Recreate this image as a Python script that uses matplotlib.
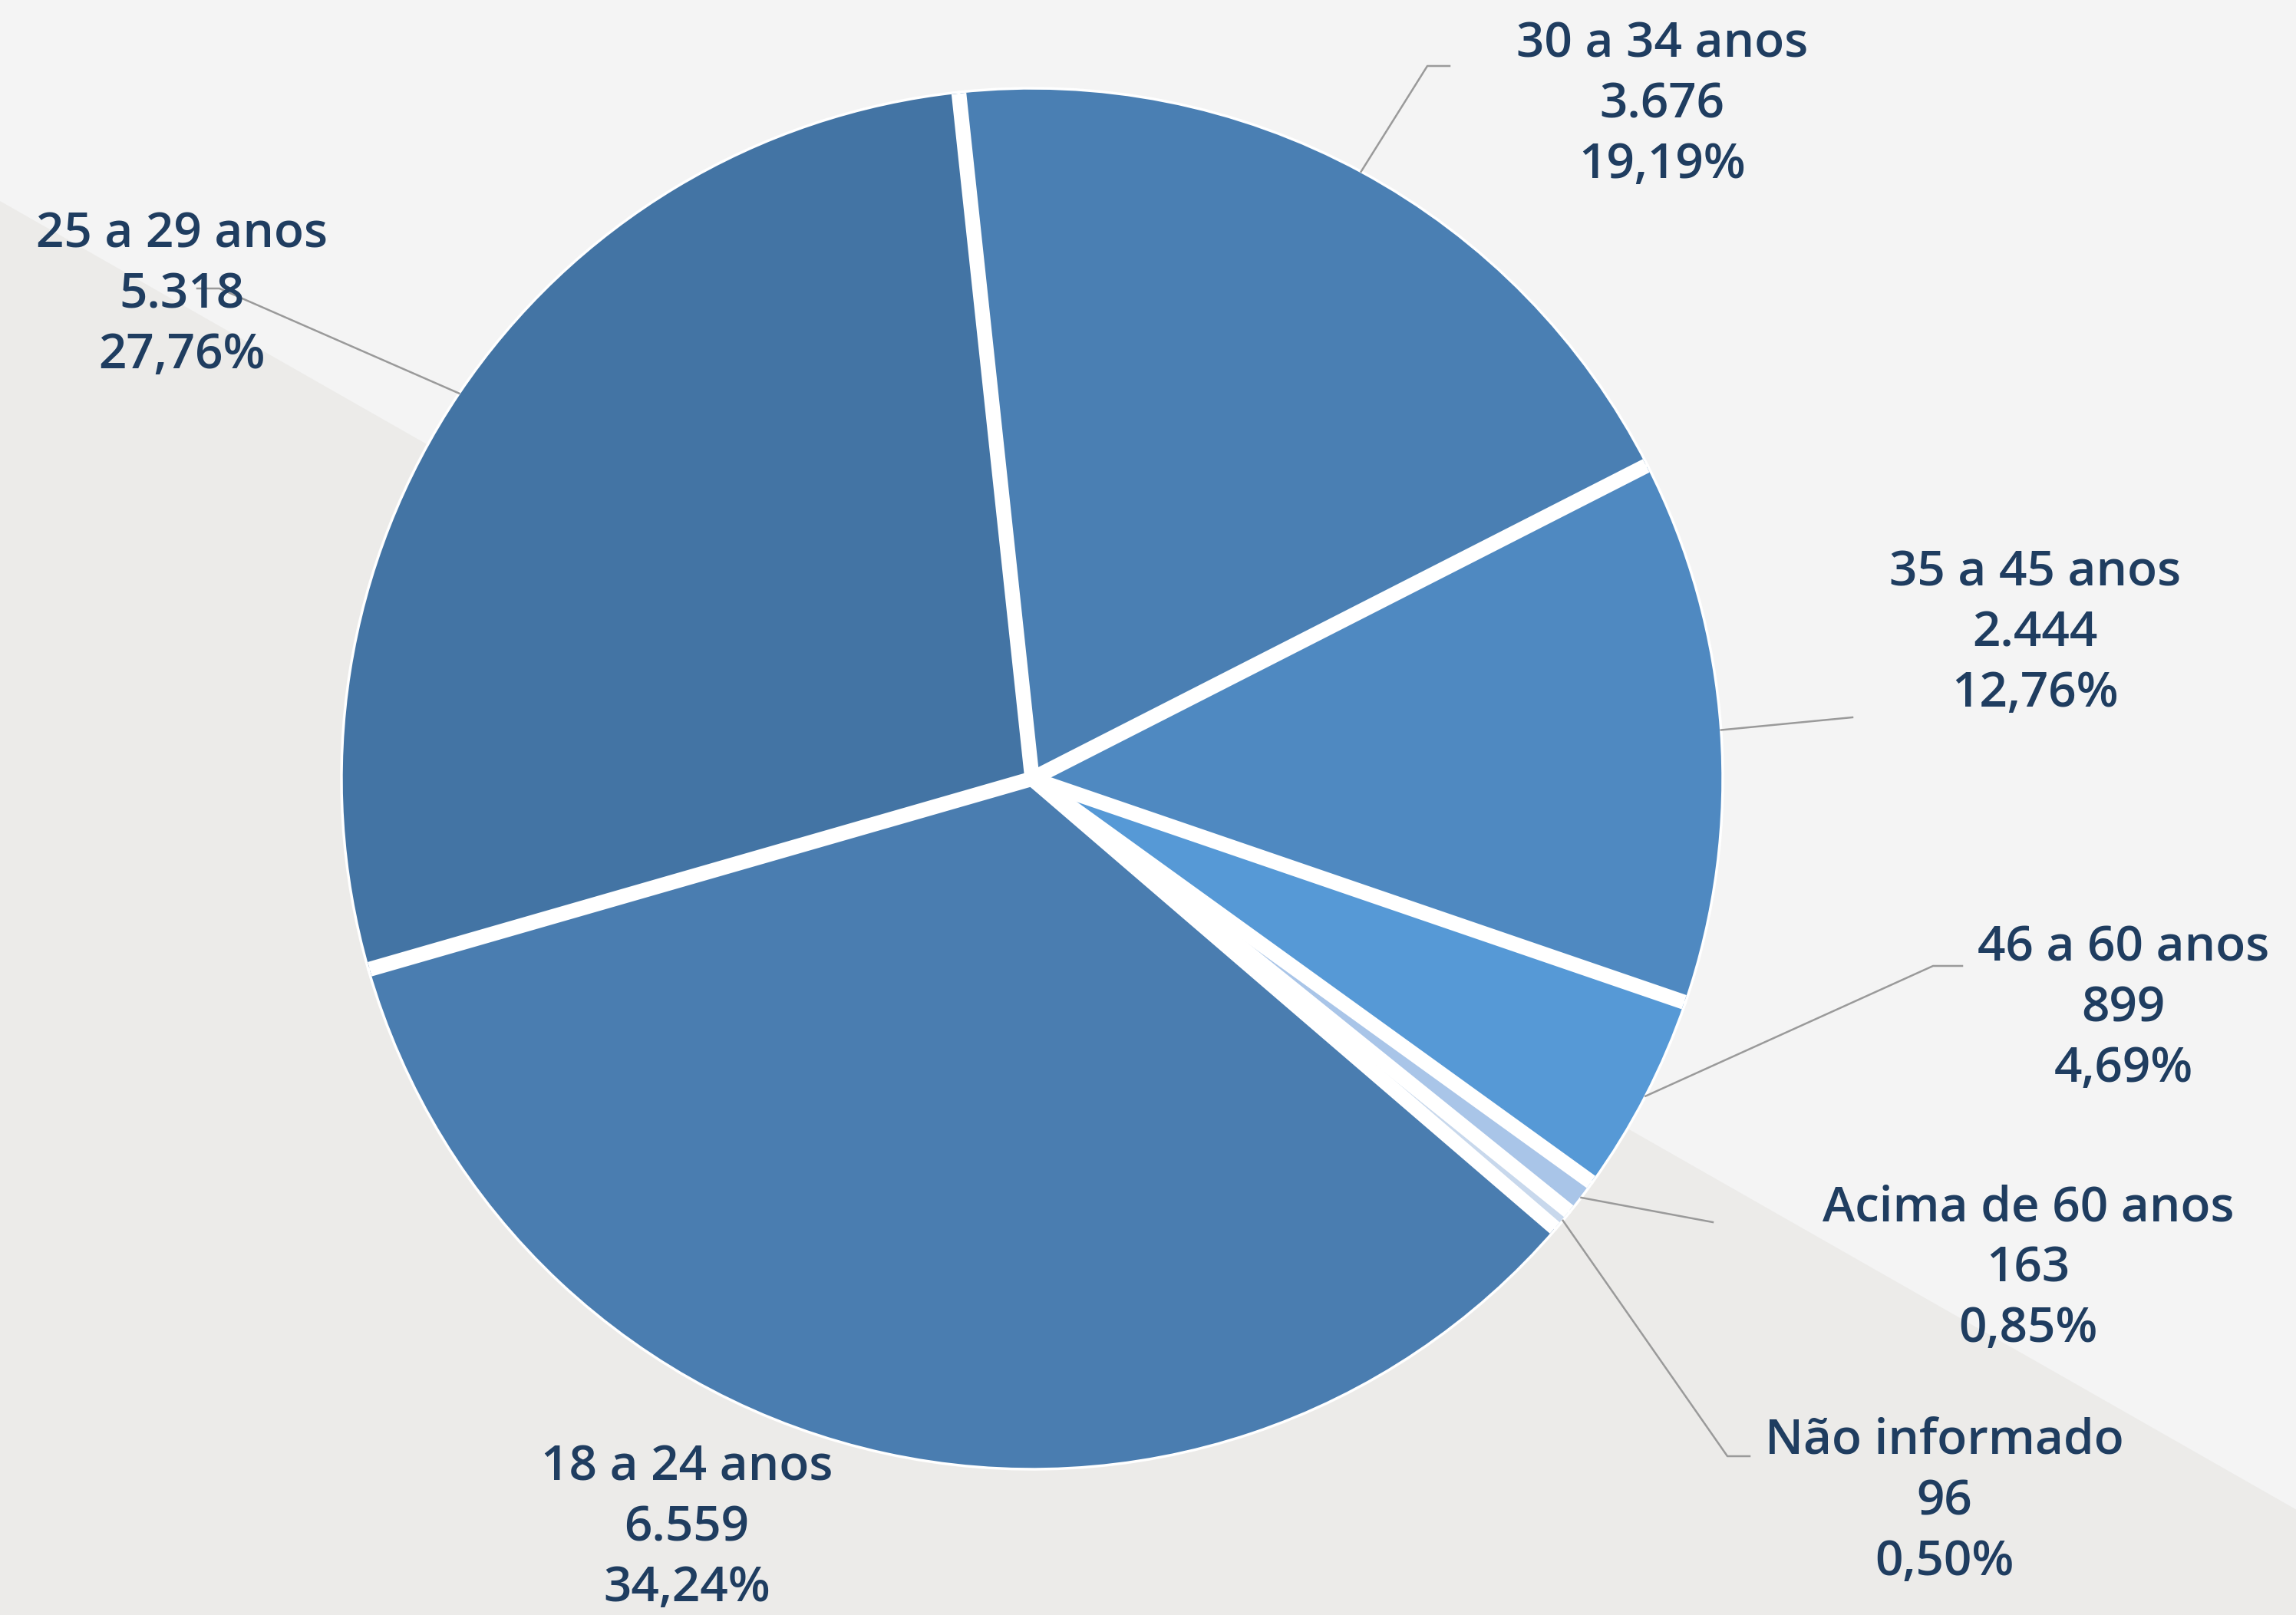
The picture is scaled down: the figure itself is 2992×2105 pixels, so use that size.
import numpy as np
import matplotlib.pyplot as plt
from matplotlib.patches import Polygon

# dados da distribuição por faixa etária
faixas = ['30 a 34 anos', '35 a 45 anos', '46 a 60 anos', 'Acima de 60 anos',
          'Não informado', '18 a 24 anos', '25 a 29 anos']
totais = [3676, 2444, 899, 163, 96, 6559, 5318]
percentuais = ['19,19%', '12,76%', '4,69%', '0,85%', '0,50%', '34,24%', '27,76%']
cores = ['#4a7fb3', '#4f89c1', '#5699d6', '#a9c5e8', '#c8d8ec', '#4a7db0', '#4374a4']

W, H = 2992, 2105
cx, cy, raio = 1345, 1015, 900  # em pixels da imagem (y para baixo)

# posição dos rótulos (centro do bloco) e pontos da linha guia
pos_rotulos = [(2166, 137), (2652, 826), (2767, 1315), (2643, 1654),
               (2534, 1958), (895, 1992), (237, 385)]
guias = [[(1860, 86), (1889, 86)],
         [(2414, 935)],
         [(2519, 1259), (2557, 1259)],
         [(2232, 1593)],
         [(2251, 1898), (2280, 1898)],
         None,
         [(286, 376), (257, 376)]]

fig = plt.figure(figsize=(W / 100, H / 100), dpi=100)
fig.patch.set_facecolor('#f4f4f4')
ax = fig.add_axes([0, 0, 1, 1])
ax.set_facecolor('#f4f4f4')

# faixa diagonal mais escura do fundo
fundo = Polygon([(0, H - 262), (W, H - (262 + 0.57 * W)), (W, 0), (0, 0)],
                closed=True, facecolor='#ecebe9', edgecolor='none', zorder=0)
ax.add_patch(fundo)

wedges, _ = ax.pie(totais, colors=cores, startangle=96.1, counterclock=False,
                   center=(cx, H - cy), radius=raio,
                   wedgeprops=dict(edgecolor='white', linewidth=2.5))

# separadores brancos entre as fatias
for w in wedges:
    a = np.deg2rad(w.theta1)
    ax.plot([cx, cx + raio * 0.998 * np.cos(a)], [H - cy, H - cy + raio * 0.998 * np.sin(a)],
            color='white', linewidth=14, solid_capstyle='butt', zorder=3)

cor_texto = '#1f3d60'
for i, w in enumerate(wedges):
    rotulo = f"{faixas[i]}\n{totais[i]:,}".replace(',', '.') + f"\n{percentuais[i]}"
    tx, ty = pos_rotulos[i]
    ax.text(tx, H - ty, rotulo, ha='center', va='center', fontsize=46,
            family='Open Sans', fontweight='semibold', color=cor_texto,
            linespacing=1.33, zorder=5)
    if guias[i] is None:
        continue
    ang = np.deg2rad((w.theta1 + w.theta2) / 2)
    x0 = cx + raio * np.cos(ang)
    y0 = (H - cy) + raio * np.sin(ang)
    xs = [x0] + [p[0] for p in guias[i]]
    ys = [y0] + [H - p[1] for p in guias[i]]
    ax.plot(xs, ys, color='#9a9a9a', linewidth=1.8, zorder=4)

ax.set_xlim(0, W)
ax.set_ylim(0, H)
ax.set_aspect('equal')
ax.axis('off')

fig.savefig('out.png', dpi=100, facecolor=fig.get_facecolor())
